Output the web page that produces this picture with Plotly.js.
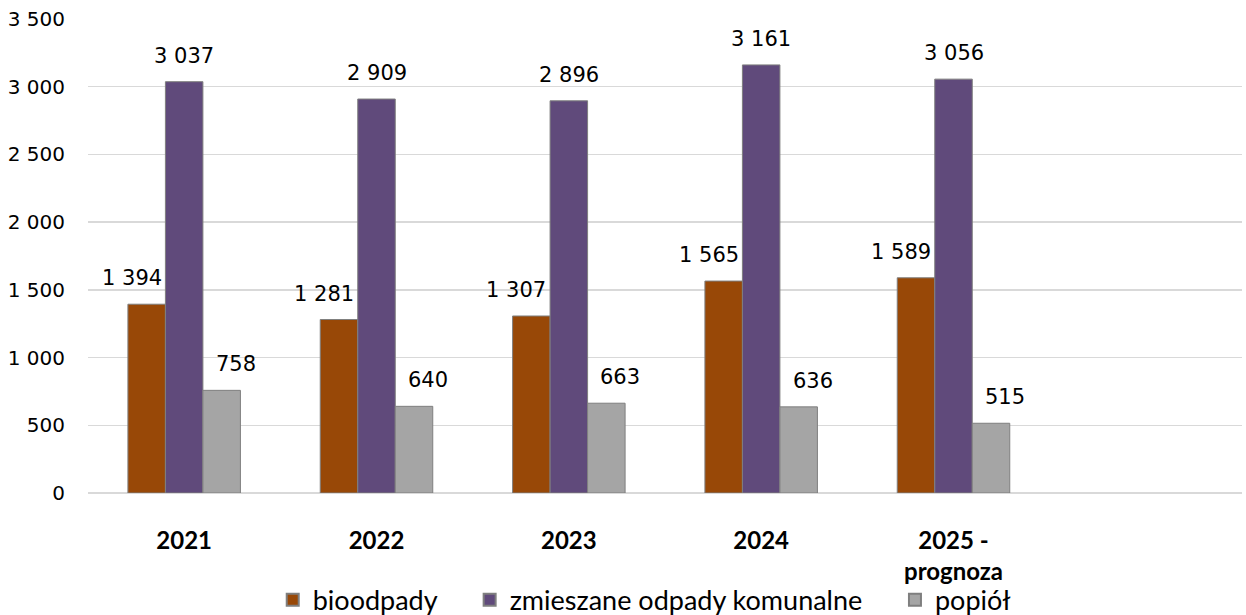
<!DOCTYPE html>
<html>
<head>
<meta charset="utf-8">
<script src="https://cdn.plot.ly/plotly-3.0.1.min.js"></script>
<style>html,body{margin:0;padding:0;background:#fff;}#chart{width:1246px;height:615px;}</style>
</head>
<body>
<div id="chart"></div>
<script>
const categories = ["2021", "2022", "2023", "2024", "2025 -<br>prognoza"];
const seriesNames = ["bioodpady", "zmieszane odpady komunalne", "popiół"];
const bioodpady = [1394, 1281, 1307, 1565, 1589];
const zmieszane = [3037, 2909, 2896, 3161, 3056];
const popiol = [758, 640, 663, 636, 515];
const yTicks = [0, 500, 1000, 1500, 2000, 2500, 3000, 3500];

const colors = ["#984807", "#604A7B", "#A5A5A5"];
const series = [bioodpady, zmieszane, popiol];
const bargap = 0.415;
const w = (1 - bargap) / 3;

function fmt(v) {
  return String(v).replace(/\B(?=(\d{3})+(?!\d))/g, " ");
}

const pad = "\u00a0\u00a0\u00a0\u00a0";
const traces = series.map((vals, k) => ({
  type: "bar",
  name: seriesNames[k] + (k < 2 ? pad : ""),
  x: categories,
  y: vals,
  marker: { color: colors[k], line: { color: "#7f7f7f", width: 1 } },
  hoverinfo: "skip"
}));

const xshifts = [-15, 0, 14];
const annotations = [];
series.forEach((vals, k) => {
  vals.forEach((v, i) => {
    annotations.push({
      x: i + (k - 1) * w,
      y: v,
      xref: "x",
      yref: "y",
      text: fmt(v),
      showarrow: false,
      xanchor: "center",
      yanchor: "middle",
      xshift: xshifts[k],
      yshift: 26,
      font: { family: "DejaVu Sans", size: 21, color: "#000" }
    });
  });
});

const layout = {
  width: 1246,
  height: 615,
  margin: { l: 88, r: 4, t: 19, b: 122, autoexpand: false },
  paper_bgcolor: "#fff",
  plot_bgcolor: "#fff",
  barmode: "group",
  bargap: bargap,
  bargroupgap: 0,
  separators: ", ",
  showlegend: true,
  xaxis: {
    type: "category",
    range: [-0.5, 5.5],
    showgrid: false,
    showline: false,
    zeroline: false,
    ticks: "",
    automargin: false,
    ticklabelstandoff: 31,
    tickfont: { family: "Lato", size: 24, color: "#000", weight: "bold" }
  },
  yaxis: {
    range: [0, 3500],
    tickvals: yTicks,
    ticktext: yTicks.map(fmt),
    showgrid: true,
    gridcolor: "#d9d9d9",
    gridwidth: 1.5,
    zeroline: true,
    zerolinecolor: "#d9d9d9",
    zerolinewidth: 1.5,
    showline: false,
    ticks: "",
    automargin: false,
    ticklabelstandoff: 22,
    tickfont: { family: "DejaVu Sans", size: 20, color: "#000" }
  },
  legend: {
    orientation: "h",
    x: 0.482,
    xanchor: "center",
    y: -0.226,
    yanchor: "middle",
    bgcolor: "rgba(0,0,0,0)",
    font: { family: "Lato", size: 27, color: "#000" },
    itemsizing: "constant"
  },
  annotations: annotations
};

Plotly.newPlot("chart", traces, layout, { displayModeBar: false, staticPlot: true });
</script>
</body>
</html>
